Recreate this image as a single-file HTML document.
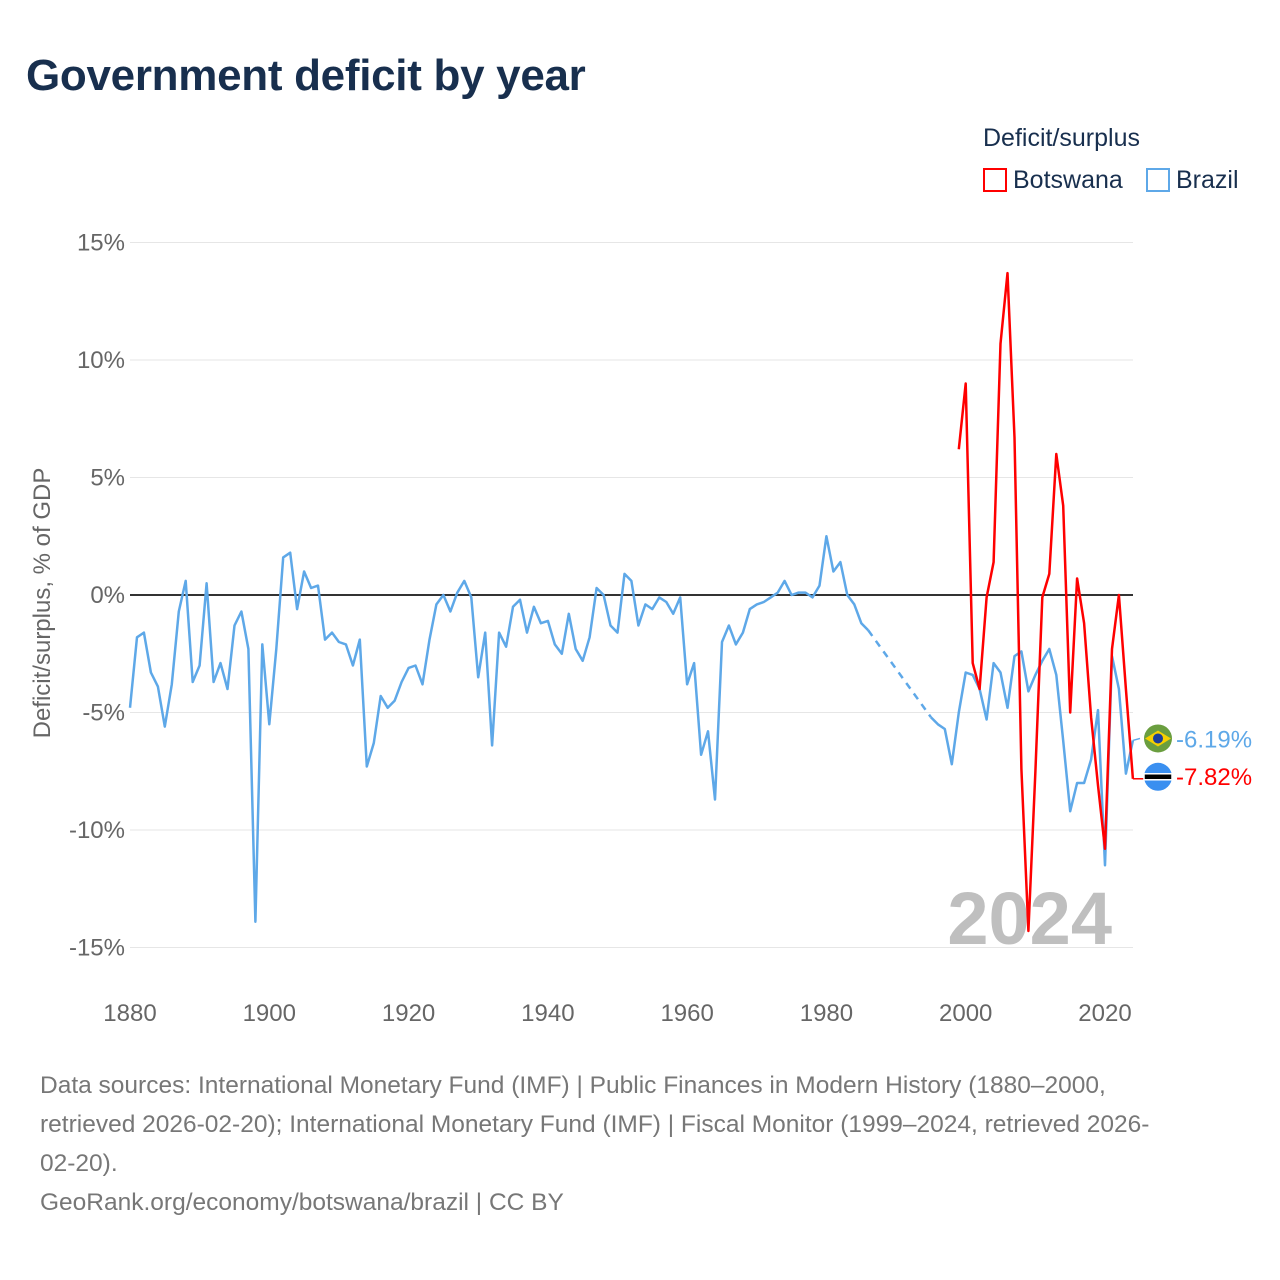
<!DOCTYPE html>
<html><head><meta charset="utf-8"><style>
body{margin:0;background:#fff;font-family:"Liberation Sans",sans-serif;}
#wrap{position:relative;width:1280px;height:1280px;overflow:hidden;}
.t{position:absolute;white-space:nowrap;}
</style></head><body>
<div id="wrap">
<div class="t" style="left:26px;top:51px;font-size:44px;font-weight:bold;color:#182f4e;letter-spacing:-0.3px;">Government deficit by year</div>
<div class="t" style="left:983px;top:124px;font-size:25px;color:#182f4e;">Deficit/surplus</div>
<div class="t" style="left:983px;top:166px;font-size:25px;color:#182f4e;"><span style="display:inline-block;width:24px;height:24px;border:2px solid #f00;box-sizing:border-box;vertical-align:-4px;margin-right:6px;"></span>Botswana</div>
<div class="t" style="left:1146px;top:166px;font-size:25px;color:#182f4e;"><span style="display:inline-block;width:24px;height:24px;border:2px solid #5ea8e8;box-sizing:border-box;vertical-align:-4px;margin-right:6px;"></span>Brazil</div>
<svg id="chart" width="1280" height="1280" style="position:absolute;left:0;top:0;"></svg>
<div class="t" style="left:40px;top:1066px;font-size:24.5px;line-height:39px;color:#777;">Data sources: International Monetary Fund (IMF) | Public Finances in Modern History (1880–2000,<br>retrieved 2026-02-20); International Monetary Fund (IMF) | Fiscal Monitor (1999–2024, retrieved 2026-<br>02-20).<br>GeoRank.org/economy/botswana/brazil | CC BY</div>
</div>
<script>
const yTicks=[15,10,5,0,-5,-10,-15];
const yTickLabels=["15%","10%","5%","0%","-5%","-10%","-15%"];
const xTicks=[1880,1900,1920,1940,1960,1980,2000,2020];
const brazilYears1=[1880,1881,1882,1883,1884,1885,1886,1887,1888,1889,1890,1891,1892,1893,1894,1895,1896,1897,1898,1899,1900,1901,1902,1903,1904,1905,1906,1907,1908,1909,1910,1911,1912,1913,1914,1915,1916,1917,1918,1919,1920,1921,1922,1923,1924,1925,1926,1927,1928,1929,1930,1931,1932,1933,1934,1935,1936,1937,1938,1939,1940,1941,1942,1943,1944,1945,1946,1947,1948,1949,1950,1951,1952,1953,1954,1955,1956,1957,1958,1959,1960,1961,1962,1963,1964,1965,1966,1967,1968,1969,1970,1971,1972,1973,1974,1975,1976,1977,1978,1979,1980,1981,1982,1983,1984,1985,1986];
const brazilValues1=[-4.8,-1.8,-1.6,-3.3,-3.9,-5.6,-3.8,-0.7,0.6,-3.7,-3.0,0.5,-3.7,-2.9,-4.0,-1.3,-0.7,-2.3,-13.9,-2.1,-5.5,-2.3,1.6,1.8,-0.6,1.0,0.3,0.4,-1.9,-1.6,-2.0,-2.1,-3.0,-1.9,-7.3,-6.3,-4.3,-4.8,-4.5,-3.7,-3.1,-3.0,-3.8,-1.9,-0.4,0,-0.7,0.1,0.6,-0.1,-3.5,-1.6,-6.4,-1.6,-2.2,-0.5,-0.2,-1.6,-0.5,-1.2,-1.1,-2.1,-2.5,-0.8,-2.3,-2.8,-1.8,0.3,0,-1.3,-1.6,0.9,0.6,-1.3,-0.4,-0.6,-0.1,-0.3,-0.8,-0.1,-3.8,-2.9,-6.8,-5.8,-8.7,-2.0,-1.3,-2.1,-1.6,-0.6,-0.4,-0.3,-0.1,0.1,0.6,0,0.1,0.1,-0.1,0.4,2.5,1.0,1.4,0,-0.4,-1.2,-1.5];
const brazilYears2=[1995,1996,1997,1998,1999,2000,2001,2002,2003,2004,2005,2006,2007,2008,2009,2010,2011,2012,2013,2014,2015,2016,2017,2018,2019,2020,2021,2022,2023,2024];
const brazilValues2=[-5.2,-5.5,-5.7,-7.2,-5.0,-3.3,-3.4,-4.0,-5.3,-2.9,-3.3,-4.8,-2.6,-2.4,-4.1,-3.4,-2.8,-2.3,-3.4,-6.2,-9.2,-8.0,-8.0,-7.0,-4.9,-11.5,-2.6,-4.0,-7.6,-6.19];
const botswanaYears=[1999,2000,2001,2002,2003,2004,2005,2006,2007,2008,2009,2010,2011,2012,2013,2014,2015,2016,2017,2018,2019,2020,2021,2022,2023,2024];
const botswanaValues=[6.2,9.0,-2.9,-4.0,-0.1,1.4,10.7,13.7,6.7,-7.4,-14.3,-7.5,-0.1,0.9,6.0,3.8,-5.0,0.7,-1.2,-5.2,-8.1,-10.8,-2.3,0,-4.0,-7.82];
const NS="http://www.w3.org/2000/svg";
const svg=document.getElementById('chart');
const X=y=>130+(y-1880)*(975/140);
const Y=v=>595-v*(352.5/15);
function mk(t,a){const e=document.createElementNS(NS,t);for(const k in a)e.setAttribute(k,a[k]);svg.appendChild(e);return e;}
yTicks.forEach((v,i)=>{
 if(v!==0){const g=mk('line',{x1:130,x2:1133,y1:Y(v),y2:Y(v),stroke:'#e6e6e6','stroke-width':1});
 
 }
 const t=mk('text',{x:125,y:Y(v)+8,'text-anchor':'end','font-size':24,fill:'#666','font-family':'Liberation Sans, sans-serif'});
 t.textContent=yTickLabels[i];
 
 
});
xTicks.forEach(v=>{
 const t=mk('text',{x:X(v),y:1021,'text-anchor':'middle','font-size':24,fill:'#666','font-family':'Liberation Sans, sans-serif'});
 t.textContent=v;
 
 
});
const z=mk('line',{x1:130,x2:1133,y1:Y(0),y2:Y(0),stroke:'#333','stroke-width':2});


const yt=mk('text',{x:0,y:0,transform:'translate(50,603) rotate(-90)','text-anchor':'middle','font-size':24,fill:'#666','font-family':'Liberation Sans, sans-serif'});
yt.textContent='Deficit/surplus, % of GDP';


const yr=mk('text',{x:1112,y:944,'text-anchor':'end','font-size':74,'font-weight':'bold',fill:'#bfbfbf','font-family':'Liberation Sans, sans-serif'});
yr.textContent='2024';


function pts(ys,vs){return ys.map((y,i)=>X(y).toFixed(1)+','+Y(vs[i]).toFixed(1)).join(' ');}
const b1=mk('polyline',{points:pts(brazilYears1,brazilValues1),fill:'none',stroke:'#5ea8e8','stroke-width':2.5,'stroke-linejoin':'round'});


const n1=brazilYears1.length-1;
const gap=mk('line',{x1:X(brazilYears1[n1]),y1:Y(brazilValues1[n1]),x2:X(brazilYears2[0]),y2:Y(brazilValues2[0]),stroke:'#5ea8e8','stroke-width':2.5,'stroke-dasharray':'7,6'});


const b2=mk('polyline',{points:pts(brazilYears2,brazilValues2),fill:'none',stroke:'#5ea8e8','stroke-width':2.5,'stroke-linejoin':'round'});


const bw=mk('polyline',{points:pts(botswanaYears,botswanaValues),fill:'none',stroke:'#f00','stroke-width':2.5,'stroke-linejoin':'round'});


const bzV=brazilValues2[brazilValues2.length-1], btV=botswanaValues[botswanaValues.length-1];
const bzY=Y(bzV), btY=Y(btV);
const c1=mk('path',{d:`M${X(2024)},${bzY} L1140,${bzY-2}`,stroke:'#5ea8e8','stroke-width':1.5,fill:'none'});


const c2=mk('path',{d:`M${X(2024)},${btY} L1145,${btY}`,stroke:'#f00','stroke-width':1.5,fill:'none'});


const f1=mk('circle',{cx:1158,cy:bzY-2,r:14,fill:'#6a9e3f'});


const f1b=mk('path',{d:`M1145,${bzY-2} L1158,${bzY-10} L1171,${bzY-2} L1158,${bzY+6}Z`,fill:'#f5d000'});


const f1c=mk('circle',{cx:1158,cy:bzY-2,r:5,fill:'#1b3e9a'});


const f2=mk('circle',{cx:1158,cy:btY-2,r:14,fill:'#3a8ff0'});


const f2b=mk('rect',{x:1144,y:btY-5,width:28,height:6,fill:'#000',stroke:'#fff','stroke-width':1.5});


const l1=mk('text',{x:1176,y:bzY+7,'font-size':24,fill:'#5ea8e8','font-family':'Liberation Sans, sans-serif'});
l1.textContent=bzV.toFixed(2)+'%';


const l2=mk('text',{x:1176,y:btY+6,'font-size':24,fill:'#f00','font-family':'Liberation Sans, sans-serif'});
l2.textContent=btV.toFixed(2)+'%';


</script>
</body></html>
